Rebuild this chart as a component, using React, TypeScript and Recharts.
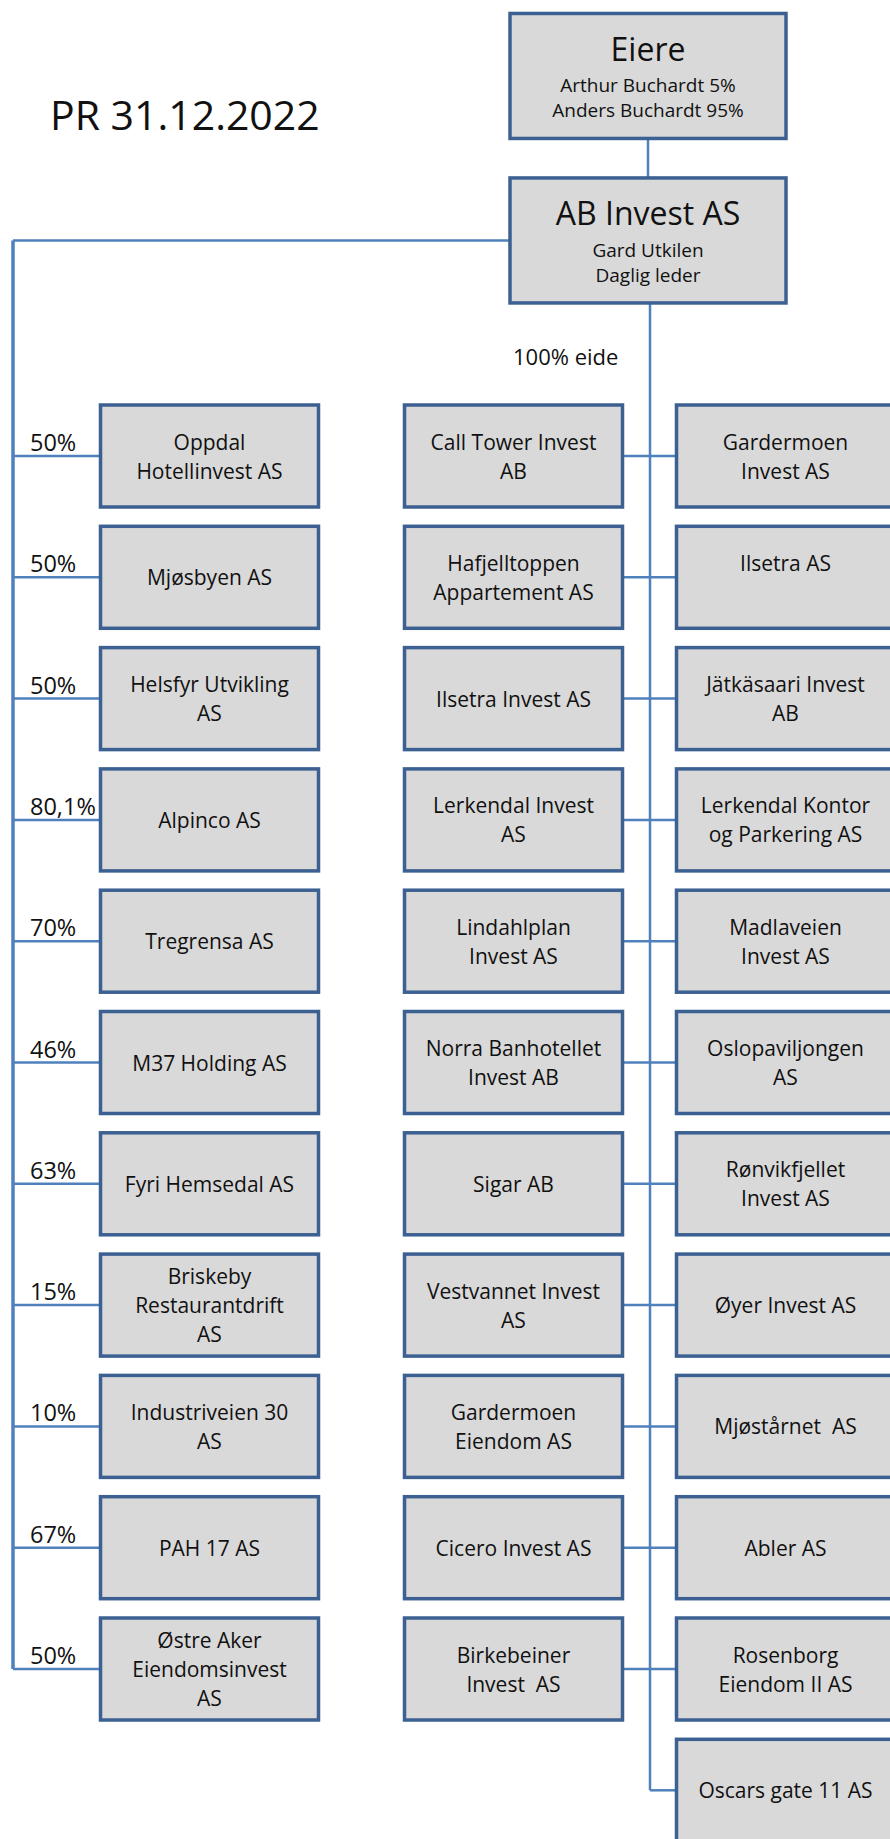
import React from 'react'
import { ScatterChart, Scatter, XAxis, YAxis, ReferenceLine } from 'recharts'

// ownership chart as of year end
const asOfDate = 'PR 31.12.2022'
const ownersTitle = 'Eiere'
const ownerNames = ['Arthur Buchardt', 'Anders Buchardt']
const ownerShares = [5, 95]
const holdingCompany = 'AB Invest AS'
const holdingManager = ['Gard Utkilen', 'Daglig leder']

const partlyOwned = [
  'Oppdal\nHotellinvest AS',
  'Mjøsbyen AS',
  'Helsfyr Utvikling\nAS',
  'Alpinco AS',
  'Tregrensa AS',
  'M37 Holding AS',
  'Fyri Hemsedal AS',
  'Briskeby\nRestaurantdrift\nAS',
  'Industriveien 30\nAS',
  'PAH 17 AS',
  'Østre Aker\nEiendomsinvest\nAS',
]
const partlyOwnedShare = [50, 50, 50, 80.1, 70, 46, 63, 15, 10, 67, 50]

const whollyOwnedNote = '100% eide'
const whollyOwnedInner = [
  'Call Tower Invest\nAB',
  'Hafjelltoppen\nAppartement AS',
  'Ilsetra Invest AS',
  'Lerkendal Invest\nAS',
  'Lindahlplan\nInvest AS',
  'Norra Banhotellet\nInvest AB',
  'Sigar AB',
  'Vestvannet Invest\nAS',
  'Gardermoen\nEiendom AS',
  'Cicero Invest AS',
  'Birkebeiner\nInvest  AS',
]
const whollyOwnedOuter = [
  'Gardermoen\nInvest AS',
  'Ilsetra AS\n',
  'Jätkäsaari Invest\nAB',
  'Lerkendal Kontor\nog Parkering AS',
  'Madlaveien\nInvest AS',
  'Oslopaviljongen\nAS',
  'Rønvikfjellet\nInvest AS',
  'Øyer Invest AS',
  'Mjøstårnet  AS',
  'Abler AS',
  'Rosenborg\nEiendom II AS',
  'Oscars gate 11 AS',
]

// layout
const W = 890
const H = 1839
const ROW_PX = 121.3
const FIRST_ROW_PX = 456
const Y_DOMAIN = [-FIRST_ROW_PX / ROW_PX, (H - FIRST_ROW_PX) / ROW_PX]

const OWNER_ROW = -3.133
const HOLDING_ROW = -1.777
const TITLE_ROW = -2.69
const NOTE_ROW = -0.75

const STEM_X = 13
const SHARE_X = 30
const LEFT_X = 209.5
const INNER_X = 513.5
const TRUNK_X = 650
const OUTER_X = 785.5
const TOP_X = 648
const TITLE_X = 50
const NOTE_X = 513

const BOX_W = 218
const BOX_H = 102
const TOP_W = 276
const TOP_H = 125

const LINE = '#4F81BD'
const BORDER = '#3B6091'
const FILL = '#D9D9D9'
const FONT = "'Open Sans', sans-serif"

const fmtPct = (v: number) => String(v).replace('.', ',') + '%'

const topBoxes = [
  { x: TOP_X, y: OWNER_ROW, lines: [ownersTitle, ...ownerNames.map((n, i) => `${n} ${fmtPct(ownerShares[i])}`)], w: TOP_W, h: TOP_H, top: true },
  { x: TOP_X, y: HOLDING_ROW, lines: [holdingCompany, ...holdingManager], w: TOP_W, h: TOP_H, top: true },
]
const leftBoxes = partlyOwned.map((name, i) => ({ x: LEFT_X, y: i, lines: name.split('\n'), w: BOX_W, h: BOX_H }))
const innerBoxes = whollyOwnedInner.map((name, i) => ({ x: INNER_X, y: i, lines: name.split('\n'), w: BOX_W, h: BOX_H }))
const outerBoxes = whollyOwnedOuter.map((name, i) => ({ x: OUTER_X, y: i, lines: name.split('\n'), w: BOX_W, h: BOX_H }))
const shareLabels = partlyOwnedShare.map((v, i) => ({ x: SHARE_X, y: i, label: fmtPct(v) }))
const notes = [
  { x: TITLE_X, y: TITLE_ROW, label: asOfDate, size: 41 },
  { x: NOTE_X, y: NOTE_ROW, label: whollyOwnedNote, size: 22 },
]

function OrgBox(props: any) {
  const { cx, cy, payload } = props
  const { lines, w, h, top } = payload
  return (
    <g>
      <rect x={cx - w / 2} y={cy - h / 2} width={w} height={h} fill={FILL} stroke={BORDER} strokeWidth={3.5} />
      {lines.map((line: string, i: number) => {
        let dy: number
        let size: number
        if (top) {
          dy = i === 0 ? -15 : i === 1 ? 16.5 : 41.5
          size = i === 0 ? 32 : 19
        } else {
          dy = 8 + (i - (lines.length - 1) / 2) * 29
          size = 21
        }
        return (
          <text key={i} x={cx} y={cy + dy} textAnchor="middle" fontFamily={FONT} fontSize={size} fill="#111" style={{ whiteSpace: 'pre' }}>
            {line}
          </text>
        )
      })}
    </g>
  )
}

function ShareLabel(props: any) {
  const { cx, cy, payload } = props
  return (
    <text x={cx} y={cy - 5} fontFamily={FONT} fontSize={23.5} fill="#111">
      {payload.label}
    </text>
  )
}

function Note(props: any) {
  const { cx, cy, payload } = props
  return (
    <text x={cx} y={cy} fontFamily={FONT} fontSize={payload.size} fill="#111">
      {payload.label}
    </text>
  )
}

const halfRow = (px: number) => px / 2 / ROW_PX

export default function App() {
  const lastLeft = partlyOwned.length - 1
  const lastOuter = whollyOwnedOuter.length - 1
  return (
    <div style={{ position: 'absolute', left: 0, top: 0, width: W, height: H, background: '#fff' }}>
      <ScatterChart width={W} height={H} margin={{ top: 0, right: 0, bottom: 0, left: 0 }}>
        <XAxis type="number" dataKey="x" domain={[0, W]} allowDataOverflow hide />
        <YAxis type="number" dataKey="y" domain={Y_DOMAIN} allowDataOverflow reversed hide />

        {/* owners -> holding */}
        <ReferenceLine
          segment={[{ x: TOP_X, y: OWNER_ROW + halfRow(TOP_H) }, { x: TOP_X, y: HOLDING_ROW - halfRow(TOP_H) }]}
          stroke={LINE} strokeWidth={2.5} ifOverflow="visible"
        />
        {/* holding -> partly owned stem */}
        <ReferenceLine
          segment={[{ x: STEM_X, y: HOLDING_ROW }, { x: TOP_X - TOP_W / 2, y: HOLDING_ROW }]}
          stroke={LINE} strokeWidth={2.5} ifOverflow="visible"
        />
        <ReferenceLine
          segment={[{ x: STEM_X, y: HOLDING_ROW }, { x: STEM_X, y: lastLeft }]}
          stroke={LINE} strokeWidth={3.5} ifOverflow="visible"
        />
        {partlyOwned.map((_, i) => (
          <ReferenceLine
            key={`l${i}`}
            segment={[{ x: STEM_X, y: i }, { x: LEFT_X - BOX_W / 2, y: i }]}
            stroke={LINE} strokeWidth={2.5} ifOverflow="visible"
          />
        ))}
        {/* holding -> wholly owned trunk */}
        <ReferenceLine
          segment={[{ x: TRUNK_X, y: HOLDING_ROW + halfRow(TOP_H) }, { x: TRUNK_X, y: lastOuter }]}
          stroke={LINE} strokeWidth={2.5} ifOverflow="visible"
        />
        {whollyOwnedOuter.map((_, i) => (
          <ReferenceLine
            key={`r${i}`}
            segment={[{ x: i < whollyOwnedInner.length ? INNER_X + BOX_W / 2 : TRUNK_X, y: i }, { x: OUTER_X - BOX_W / 2, y: i }]}
            stroke={LINE} strokeWidth={2.5} ifOverflow="visible"
          />
        ))}

        <Scatter data={topBoxes} shape={(p: any) => <OrgBox {...p} />} isAnimationActive={false} />
        <Scatter data={leftBoxes} shape={(p: any) => <OrgBox {...p} />} isAnimationActive={false} />
        <Scatter data={innerBoxes} shape={(p: any) => <OrgBox {...p} />} isAnimationActive={false} />
        <Scatter data={outerBoxes} shape={(p: any) => <OrgBox {...p} />} isAnimationActive={false} />
        <Scatter data={shareLabels} shape={(p: any) => <ShareLabel {...p} />} isAnimationActive={false} />
        <Scatter data={notes} shape={(p: any) => <Note {...p} />} isAnimationActive={false} />
      </ScatterChart>
    </div>
  )
}
